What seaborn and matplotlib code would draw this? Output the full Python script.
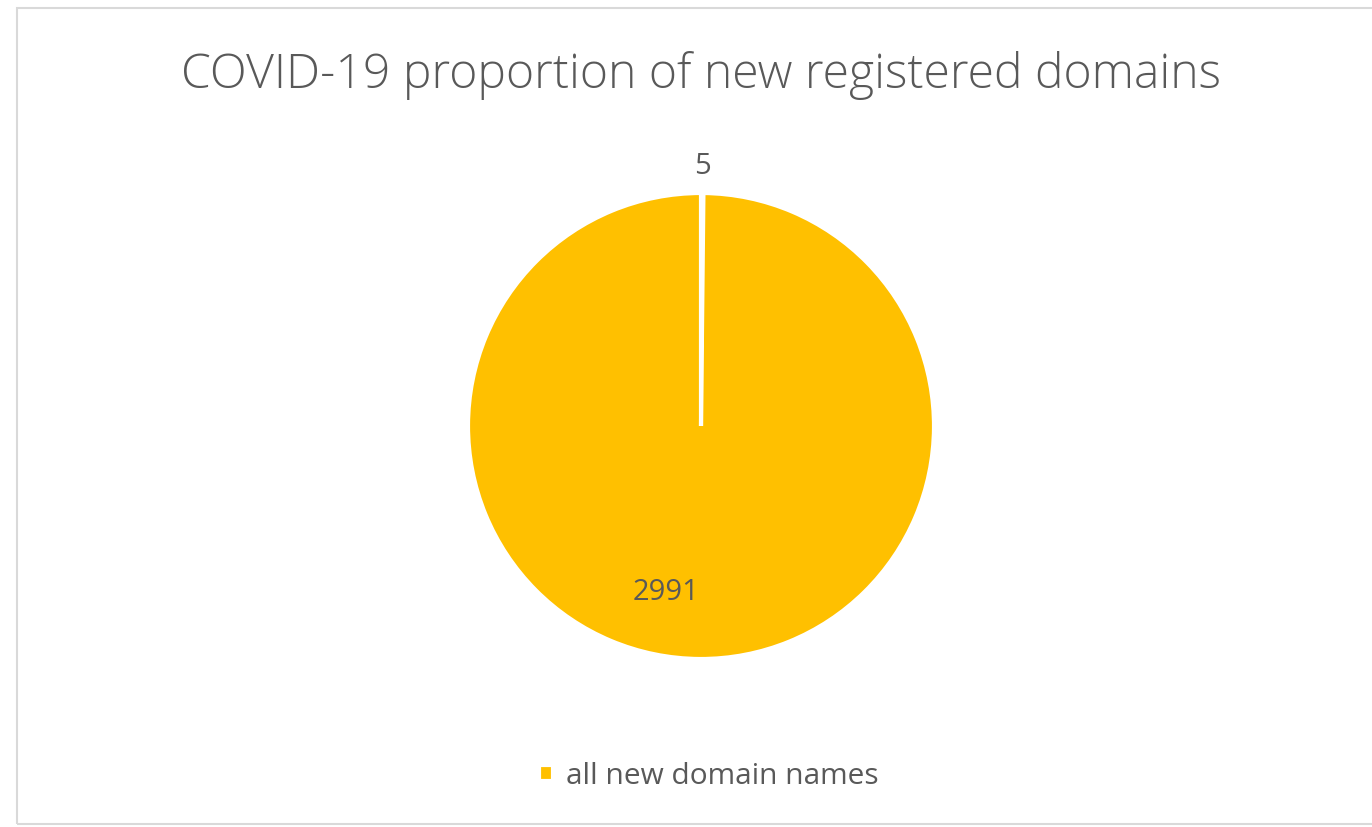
import matplotlib
matplotlib.use("Agg")
import matplotlib.pyplot as plt
import seaborn as sns
from matplotlib.patches import Rectangle

# Data
categories = ["COVID-19 domains", "all new domain names"]
counts = [5, 2991]
slice_colors = ["#FFC000", "#FFC000"]

title = "COVID-19 proportion of new registered domains"
text_grey = "#595959"

sns.set_theme(style="white")
plt.rcParams["font.family"] = ["Open Sans", "DejaVu Sans"]

W, H = 1372, 828
fig = plt.figure(figsize=(W / 100, H / 100), dpi=100)

# light grey chart-area border
fig.patches.append(Rectangle((17 / W, 1 - 825 / H), (W - 17) / W + 0.01, (825 - 9) / H,
                             transform=fig.transFigure, fill=False,
                             edgecolor="#D9D9D9", linewidth=1.5))

# pie axes: radius 233 px, centred at (701, 427); pie limits are +-1.25
cx, cy, r = 701, 427, 233
half = r * 1.25
ax = fig.add_axes([(cx - half) / W, 1 - (cy + half) / H, 2 * half / W, 2 * half / H])

wedges, texts, autotexts = ax.pie(
    counts,
    colors=slice_colors,
    startangle=90,
    counterclock=False,
    autopct=lambda p: f"{round(p * sum(counts) / 100):d}",
    pctdistance=1.12,
    wedgeprops={"edgecolor": "white", "linewidth": 3},
    textprops={"fontsize": 21, "color": text_grey},
)
# Excel-style best-fit placement of the big slice label
autotexts[1].set_position((-0.15, -0.71))

fig.text(701 / W, 1 - 76 / H, title, ha="center", va="center",
         fontsize=34.7, color=text_grey, fontweight="light")

handles = [wedges[1]]
fig.legend(handles, [categories[1]], loc="center", bbox_to_anchor=(709 / W, 1 - 777 / H),
           frameon=False, fontsize=21.5, labelcolor=text_grey,
           handlelength=0.45, handleheight=0.45, handletextpad=0.45)

fig.savefig("out.png", dpi=100, facecolor="white")
